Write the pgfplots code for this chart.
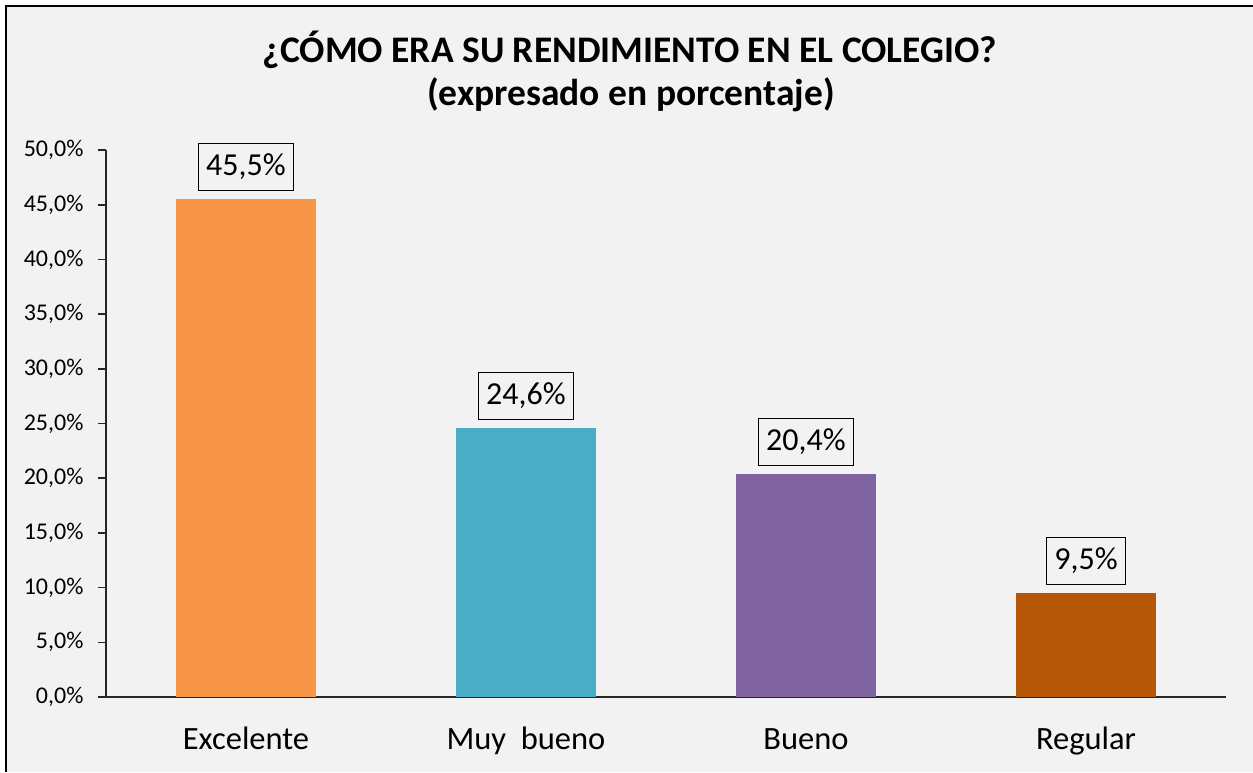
\documentclass[border=0pt]{standalone}
\usepackage{pgfplots}
\pgfplotsset{compat=1.18}
\usepackage{fontspec}
\setmainfont{Carlito}
\definecolor{bgc}{HTML}{F2F2F2}
\definecolor{c1}{HTML}{F79646}
\definecolor{c2}{HTML}{4BACC6}
\definecolor{c3}{HTML}{8064A2}
\definecolor{c4}{HTML}{B65708}
\begin{document}
\begin{tikzpicture}
\useasboundingbox (0,0) rectangle (1253pt,-772pt);
\fill[white] (0,0) rectangle (1253pt,-772pt);
\fill[bgc] (6pt,-6pt) rectangle (1253pt,-772pt);
\draw[line width=2.5pt] (6pt,-772pt) -- (6pt,-6pt) -- (1253pt,-6pt);
\node[anchor=base, font=\fontsize{37.5}{43}\selectfont\bfseries] at (630pt,-62pt) {¿CÓMO ERA SU RENDIMIENTO EN EL COLEGIO?};
\node[anchor=base, font=\fontsize{37.5}{43}\selectfont\bfseries] at (631pt,-105pt) {(expresado en porcentaje)};
\begin{axis}[
  at={(106pt,-697pt)}, anchor=south west,
  scale only axis, width=1120pt, height=547pt,
  xmin=-0.5, xmax=3.5, ymin=0, ymax=50,
  ybar, bar shift=0pt, bar width=140pt,
  axis x line*=bottom, axis y line*=left,
  axis line style={-, line width=1.6pt, color=black!85},
  xtick={0,1,2,3},
  xticklabels={Excelente,Muy\ \ bueno,Bueno,Regular},
  xtick style={draw=none},
  ytick={0,5,...,50},
  tick align=outside,
  major tick length=8pt,
  ytick style={line width=1.6pt, color=black!85},
  /pgf/number format/assume math mode=true,
  yticklabel={\pgfmathprintnumber[fixed,fixed zerofill,precision=1,use comma]{\tick}\%},
  yticklabel style={font=\fontsize{24}{28}\selectfont, anchor=east, xshift=-11pt},
  xticklabel style={font=\fontsize{32.5}{36}\selectfont, anchor=base, yshift=-44pt},
  nodes near coords={\pgfmathprintnumber[fixed,fixed zerofill,precision=1,use comma]{\pgfplotspointmeta}\%},
  nodes near coords style={font=\fontsize{32}{36}\selectfont, draw=black, line width=1.3pt, fill=none,
     text height=21pt, text depth=4pt, inner xsep=8pt, inner ysep=11pt, anchor=south, yshift=8pt},
  clip=false,
]
\addplot[fill=c1, draw=none] coordinates {(0,45.5)};
\addplot[fill=c2, draw=none] coordinates {(1,24.6)};
\addplot[fill=c3, draw=none] coordinates {(2,20.4)};
\addplot[fill=c4, draw=none] coordinates {(3,9.5)};
\end{axis}
\end{tikzpicture}
\end{document}
